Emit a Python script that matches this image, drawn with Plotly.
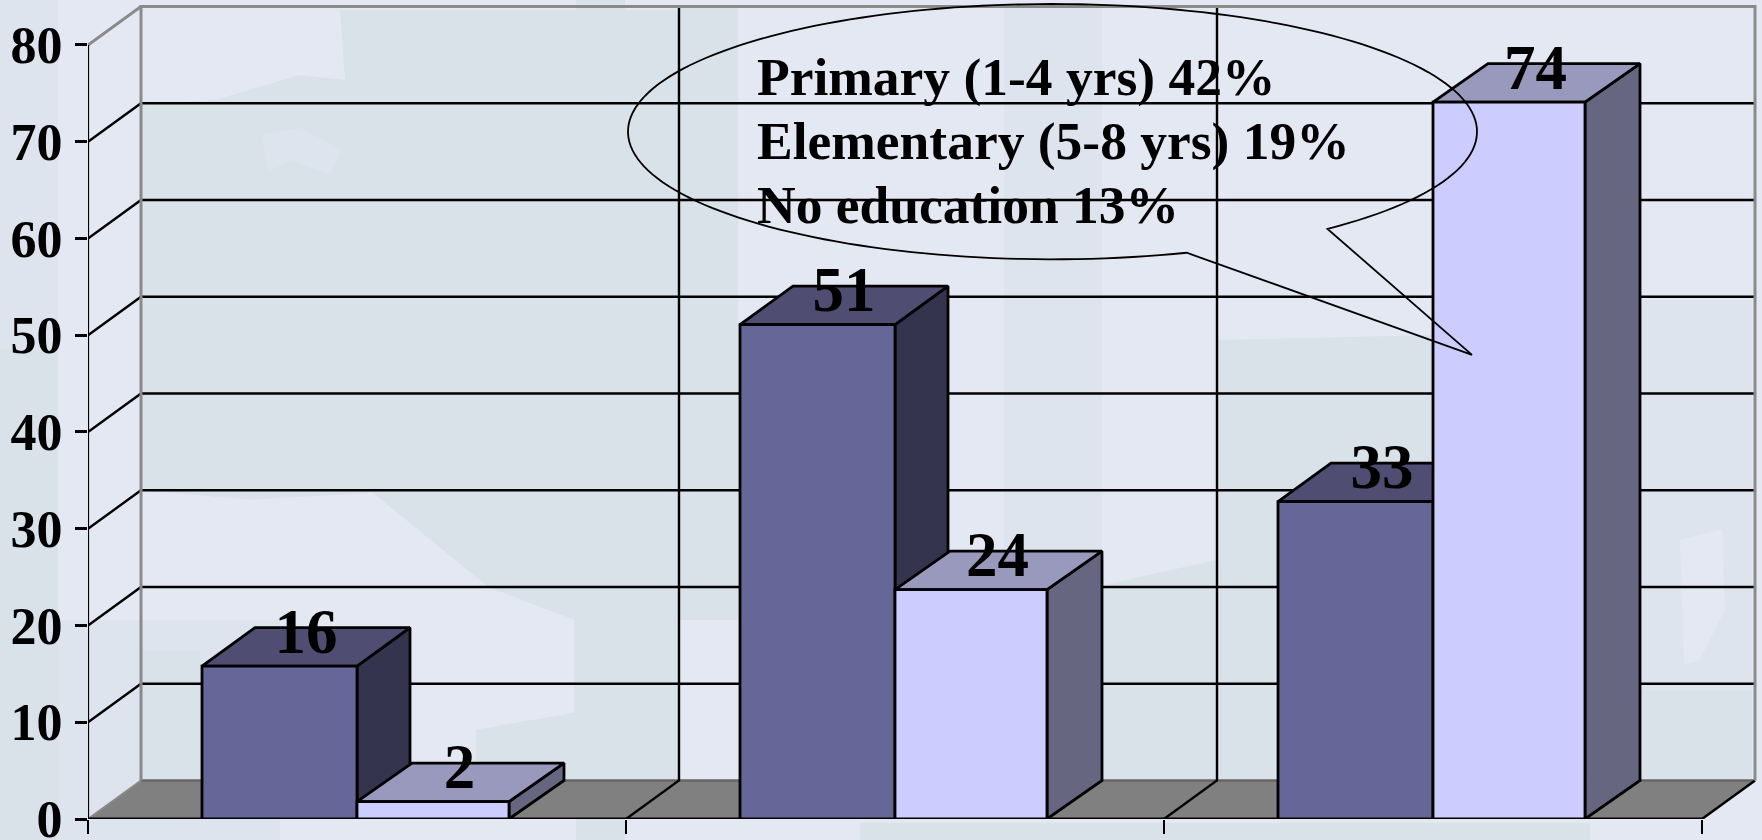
import numpy as np
import plotly.graph_objects as go

# ---- data ----
group_index = [0, 1, 2]
series_dark = [15.8, 51.1, 32.8]
series_light = [1.8, 23.7, 74.1]
y_ticks = [0, 10, 20, 30, 40, 50, 60, 70, 80]
y_tick_labels = ["0", "10", "20", "30", "40", "50", "60", "70", "80"]
x_ticks = [0, 1, 2, 3]
callout_lines = ["Primary (1-4 yrs) 42%", "Elementary (5-8 yrs) 19%", "No education 13%"]

# ---- geometry / style ----
W, H = 1762, 840
L, ZERO_PX, TOP_VAL_PX = 88, 819.3, 45
PX_PER_CAT = 538.0
PX_PER_VAL = (ZERO_PX - TOP_VAL_PX) / 80
XMAX = (W - L) / PX_PER_CAT
YMAX = ZERO_PX / PX_PER_VAL
DX = 53 / PX_PER_CAT      # 3D depth in category units
DX_LIGHT = 55 / PX_PER_CAT
DY = 38.5 / PX_PER_VAL    # 3D depth in value units
OFF_D, W_D = 114 / PX_PER_CAT, 155 / PX_PER_CAT
W_L = 152 / PX_PER_CAT
FONT = "Liberation Serif"
DARK = dict(front="#666699", side="#35344F", top="#4F4E72")
LIGHT = dict(front="#CCCCFF", side="#666680", top="#9999BE")
EDGE = "#000000"
BG_LIGHT, BG_MID, BG_DARK = "#E4E8F2", "#DEE4ED", "#D9E1E9"


def fx(px):
    return (px - L) / (W - L)


def fy(py):
    return (ZERO_PX - py) / ZERO_PX


def path(points, close=True):
    s = "M " + " L ".join(f"{fx(x):.5f} {fy(y):.5f}" for x, y in points)
    return s + (" Z" if close else "")


def rect(x0, y0, x1, y1):
    return [(x0, y0), (x1, y0), (x1, y1), (x0, y1)]


# mottled slide background: (outline, colour)
bg_shapes = [
    (rect(0, 0, 58, 350), BG_MID),
    (rect(0, 350, 58, 840), BG_DARK),
    (rect(58, 620, 280, 840), BG_MID),
    ([(140, 105), (215, 100), (300, 75), (345, 80), (340, 10), (678, 10), (678, 780), (476, 780), (476, 730), (574, 713),
      (574, 620), (488, 587), (373, 493), (250, 500), (140, 490)], BG_DARK),
    (rect(576, 0, 625, 840), BG_DARK),
    (rect(140, 650, 200, 780), BG_DARK),
    ([(262, 135), (300, 128), (342, 150), (330, 175), (290, 160), (268, 172)], BG_MID),
    (rect(678, 8, 738, 620), BG_DARK),
    (rect(1004, 8, 1102, 600), BG_MID),
    ([(1217, 340), (1440, 335), (1440, 586), (1275, 586), (1275, 780), (1100, 780), (1100, 586), (1217, 560)], BG_DARK),
    (rect(860, 823, 1590, 840), BG_DARK),
    (rect(1642, 300, 1752, 690), BG_MID),
    ([(1680, 540), (1722, 530), (1725, 610), (1700, 660), (1684, 665)], BG_LIGHT),
    (rect(1642, 690, 1752, 780), BG_DARK),
]
shapes = [dict(type="path", xref="paper", yref="paper", layer="below",
               path=path(b), fillcolor=c, line=dict(width=0))
          for b, c in bg_shapes]

# speech-bubble callout
cx, cy, rx, ry = 1052.5, 131.7, 424.5, 127.7
a_start = np.arctan2((229.3 - cy) / ry, (1328.4 - cx) / rx)
a_end = np.arctan2((254 - cy) / ry, (1188 - cx) / rx)
bubble = [(cx + rx * np.cos(t), cy + ry * np.sin(t))
          for t in np.linspace(a_start, a_end - 2 * np.pi, 180)]
bubble = [(1472, 355)] + bubble
shapes.append(dict(type="path", xref="paper", yref="paper", layer="above", path=path(bubble),
                   line=dict(color="#000000", width=1.8)))


def faces(xl, xr, vals, dx):
    side_x, side_y, top_x, top_y = [], [], [], []
    for a, b, v in zip(xl, xr, vals):
        side_x += [b, b + dx, b + dx, b, b, None]
        side_y += [0, DY, v + DY, v, 0, None]
        top_x += [a, a + dx, b + dx, b, a, None]
        top_y += [v, v + DY, v + DY, v, v, None]
    return side_x, side_y, top_x, top_y


def poly(x, y, fill, width=2.8):
    return go.Scatter(x=x, y=y, mode="lines", fill="toself", fillcolor=fill,
                      line=dict(color=EDGE, width=width), hoverinfo="skip", showlegend=False)


def seg(x, y, color="#000000", width=2.4):
    return go.Scatter(x=x, y=y, mode="lines", line=dict(color=color, width=width),
                      hoverinfo="skip", showlegend=False)


fig = go.Figure()
x_end = x_ticks[-1]
y_end = y_ticks[-1]

# floor
fig.add_trace(go.Scatter(x=[0, DX, x_end + DX, x_end, 0], y=[0, DY, DY, 0, 0], mode="lines",
                         fill="toself", fillcolor="#808080", line=dict(width=0),
                         hoverinfo="skip", showlegend=False))
fig.add_trace(seg([DX, x_end + DX], [DY, DY], "#666666", 2.5))

# walls and gridlines
gx, gy = [], []
for t in y_ticks[1:-1]:
    gx += [0, DX, x_end + DX, None]
    gy += [t, t + DY, t + DY, None]
fig.add_trace(seg(gx, gy))
gx, gy = [], []
for t in x_ticks[1:-1]:
    gx += [t, t + DX, t + DX, None]
    gy += [0, DY, y_end + DY, None]
fig.add_trace(seg(gx, gy))
fig.add_trace(seg([x_end, x_end + DX], [0, DY], "#000000", 2.5))
fig.add_trace(seg([0, DX, None, DX, DX, x_end + DX, x_end + DX],
                  [y_end, y_end + DY, None, DY, y_end + DY, y_end + DY, DY], "#8A8A8A", 3))
fig.add_trace(seg([0, DX], [0, DY], "#8A8A8A", 2))
fig.add_trace(seg([0, 0], [y_ticks[0], y_end], "#000000", 2.2))
fig.add_trace(seg([x_ticks[0], x_end], [0, 0], "#000000", 3))

# depth faces of the bars
xl_d = [g + OFF_D for g in group_index]
xr_d = [a + W_D for a in xl_d]
xl_l = xr_d
xr_l = [a + W_L for a in xl_l]
sx, sy, tx, ty = faces(xl_d, xr_d, series_dark, DX)
fig.add_trace(poly(sx, sy, DARK["side"]))
fig.add_trace(poly(tx, ty, DARK["top"]))
sx, sy, tx, ty = faces(xl_l, xr_l, series_light, DX_LIGHT)
fig.add_trace(poly(sx, sy, LIGHT["side"]))
fig.add_trace(poly(tx, ty, LIGHT["top"]))

# front faces, on an overlay so that they cover the depth faces
fig.add_trace(go.Bar(x=[a + W_D / 2 for a in xl_d], y=series_dark, width=W_D, xaxis="x2", yaxis="y2",
                     marker=dict(color=DARK["front"], line=dict(color=EDGE, width=2.8)), showlegend=False))
fig.add_trace(go.Bar(x=[a + W_L / 2 for a in xl_l], y=series_light, width=W_L, xaxis="x2", yaxis="y2",
                     marker=dict(color=LIGHT["front"], line=dict(color=EDGE, width=2.8)), showlegend=False))

# value labels
lab_x = [a + W_D / 2 + DX / 2 for a in xl_d] + [a + W_L / 2 + DX / 2 for a in xl_l]
lab_v = series_dark + series_light
fig.add_trace(go.Scatter(x=lab_x, y=[v + DY * 0.76 for v in lab_v], text=[str(round(v)) for v in lab_v],
                         mode="text", textposition="middle center", xaxis="x2", yaxis="y2",
                         textfont=dict(family=FONT, size=63, color="#000000", weight="bold"),
                         hoverinfo="skip", showlegend=False))

# callout text
annotations = [dict(xref="paper", yref="paper", x=fx(755.5), y=fy(base), text=f"<b>{line}</b>",
                    xanchor="left", yanchor="bottom", showarrow=False, borderpad=0,
                    font=dict(family=FONT, size=53.5, color="#000000"))
               for line, base in zip(callout_lines, [108, 172, 236])]

fig.update_layout(
    width=W, height=H, autosize=False,
    margin=dict(l=L, r=0, t=0, b=H - ZERO_PX, pad=0, autoexpand=False),
    paper_bgcolor=BG_LIGHT, plot_bgcolor="rgba(0,0,0,0)",
    barmode="overlay", showlegend=False, shapes=shapes, annotations=annotations,
    xaxis=dict(range=[0, XMAX], tickvals=x_ticks, ticktext=["", "", "", ""], ticks="outside", ticklen=14,
               tickwidth=2, tickcolor="#000000", showgrid=False, zeroline=False, showline=False, fixedrange=True),
    yaxis=dict(range=[0, YMAX], tickvals=y_ticks, ticktext=y_tick_labels, ticks="outside", ticklen=12,
               tickwidth=2.5, tickcolor="#000000", showgrid=False, zeroline=False, showline=False, fixedrange=True,
               ticklabeloverflow="allow", ticklabelstandoff=2,
               tickfont=dict(family=FONT, size=52, color="#000000", weight="bold")),
    xaxis2=dict(range=[0, XMAX], overlaying="x", visible=False, fixedrange=True),
    yaxis2=dict(range=[0, YMAX], overlaying="y", visible=False, fixedrange=True),
)

fig.write_html("out.html", config=dict(displayModeBar=False),
               post_script="document.body.style.margin='0';document.body.style.overflow='hidden';document.documentElement.style.background='" + BG_LIGHT + "';")
